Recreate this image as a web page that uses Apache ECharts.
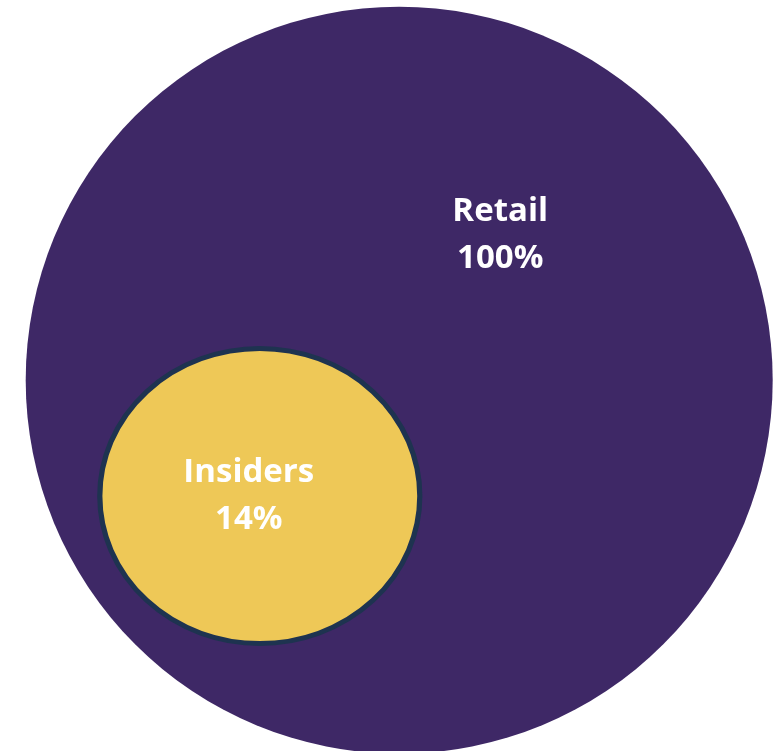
<!DOCTYPE html>
<html>
<head>
<meta charset="utf-8">
<script src="https://cdn.jsdelivr.net/npm/echarts@6/dist/echarts.min.js"></script>
<style>
html,body{margin:0;padding:0;background:#fff;}
#chart{width:775px;height:751px;}
</style>
</head>
<body>
<div id="chart"></div>
<script>
// Data
const categories = ['Retail', 'Insiders'];
const shares = [100, 14];

// Layout (canvas units of the hidden axes)
const centers = [[399.2, 380.2], [259.8, 496]];
const sizes = [[747, 747], [320, 295]];
const colors = ['#3E2866', '#EEC857'];
const borders = [{ w: 0, c: 'transparent' }, { w: 5, c: '#1E3350' }];
const labelOffsets = [[101, -145], [-11, 0]];

const chart = echarts.init(document.getElementById('chart'), null, { renderer: 'canvas' });

const series = categories.map((name, i) => ({
  type: 'scatter',
  name: name,
  symbol: 'circle',
  symbolSize: sizes[i],
  silent: true,
  z: 2 + i,
  itemStyle: { color: colors[i], borderWidth: borders[i].w, borderColor: borders[i].c, opacity: 1 },
  label: {
    show: true,
    position: 'inside',
    offset: labelOffsets[i],
    formatter: () => name + '\n' + shares[i] + '%',
    color: '#ffffff',
    fontFamily: 'Open Sans',
    fontWeight: 'bold',
    fontSize: 33,
    lineHeight: 47,
    align: 'center'
  },
  data: [{ name: name, value: centers[i] }]
}));

chart.setOption({
  animation: false,
  grid: { left: 0, right: 0, top: 0, bottom: 0 },
  xAxis: { type: 'value', min: 0, max: 775, show: false },
  yAxis: { type: 'value', min: 0, max: 751, inverse: true, show: false },
  series: series
});
</script>
</body>
</html>
